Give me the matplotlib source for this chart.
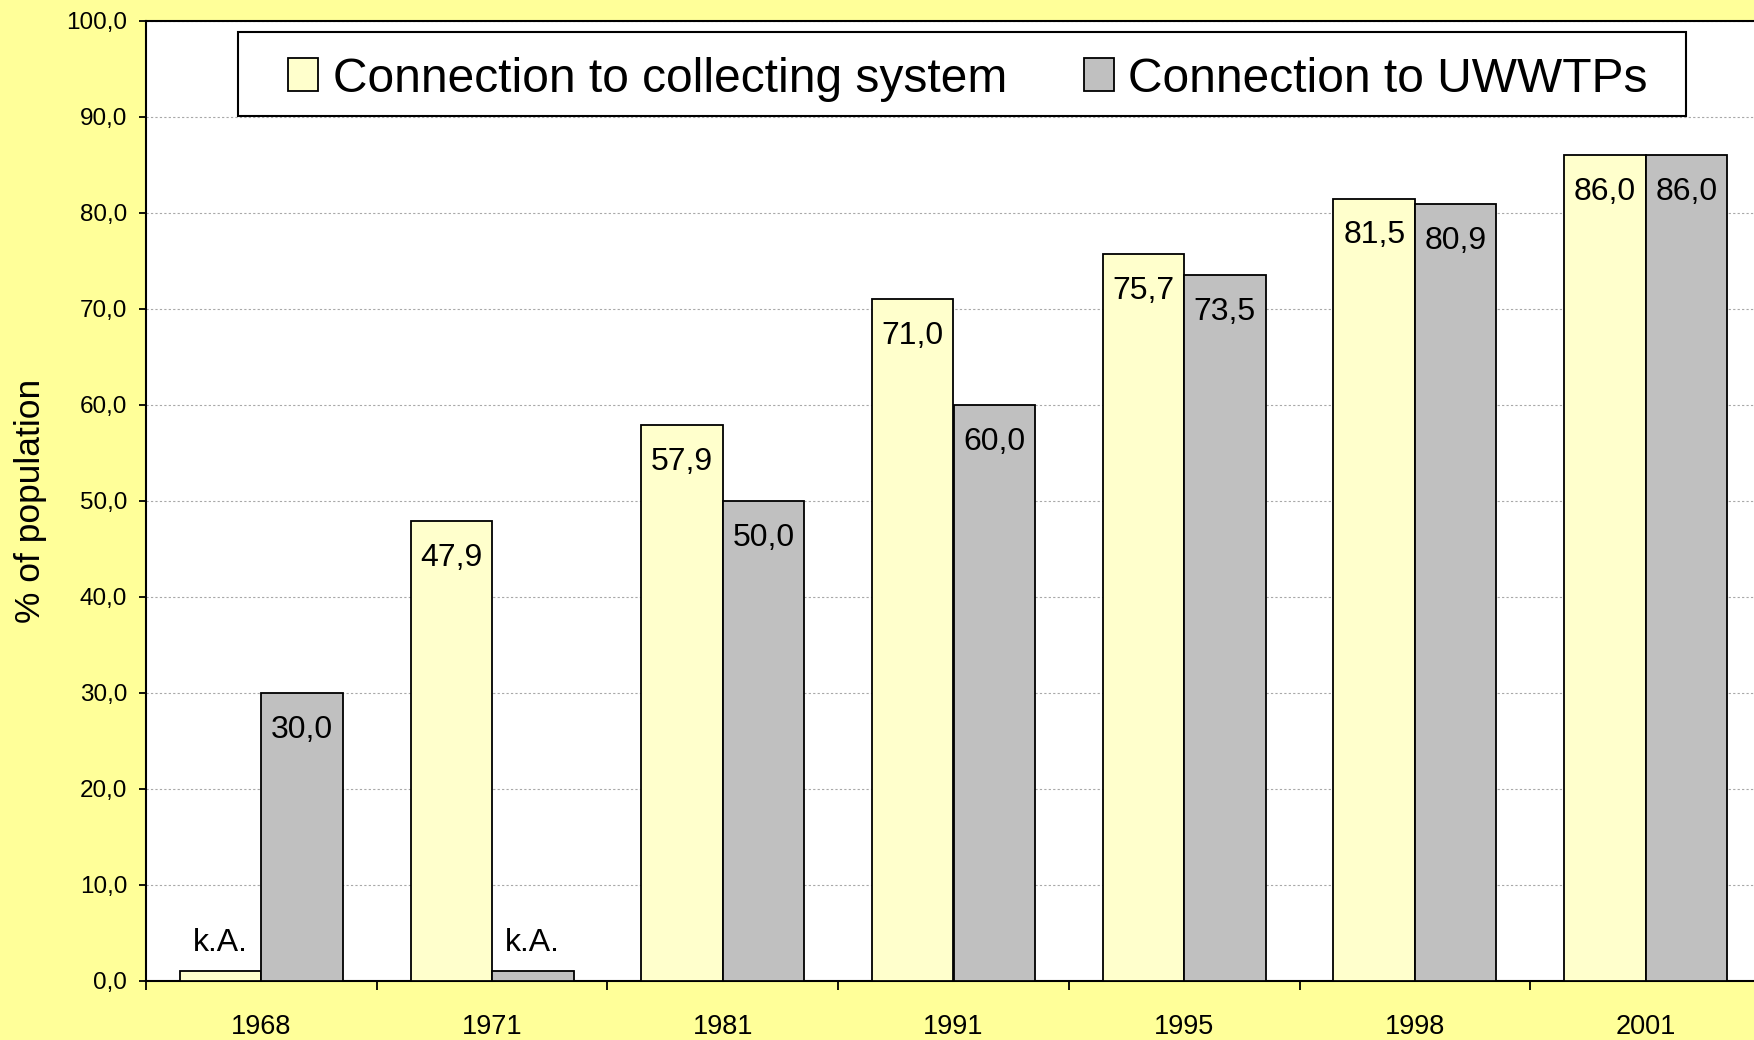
import numpy as np
import matplotlib.pyplot as plt
from matplotlib.patches import Rectangle

plt.rcParams['font.family'] = ['Liberation Sans', 'DejaVu Sans']

years = ['1968', '1971', '1981', '1991', '1995', '1998', '2001']
# k.A. = keine Angabe, drawn as a stub of 1.0
collecting = [1.0, 47.9, 57.9, 71.0, 75.7, 81.5, 86.0]
uwwtp = [30.0, 1.0, 50.0, 60.0, 73.5, 80.9, 86.0]
collecting_lbl = ['k.A.', '47,9', '57,9', '71,0', '75,7', '81,5', '86,0']
uwwtp_lbl = ['30,0', 'k.A.', '50,0', '60,0', '73,5', '80,9', '86,0']
yticks = [0, 10, 20, 30, 40, 50, 60, 70, 80, 90, 100]
ytick_labels = ['0,0', '10,0', '20,0', '30,0', '40,0', '50,0', '60,0', '70,0', '80,0', '90,0', '100,0']

fig = plt.figure(figsize=(17.54, 10.40), dpi=100, facecolor='#FFFF99')
ax = fig.add_axes([146/1754, 59/1040, 1615/1754, 960/1040])
ax.set_facecolor('white')

x = np.arange(len(years))
w = 0.353
b1 = ax.bar(x - w/2, collecting, w, color='#FFFFCC', edgecolor='black', linewidth=1.3,
            label='Connection to collecting system', zorder=3)
b2 = ax.bar(x + w/2, uwwtp, w, color='#C0C0C0', edgecolor='black', linewidth=1.3,
            label='Connection to UWWTPs', zorder=3)

for bars, lbls in [(b1, collecting_lbl), (b2, uwwtp_lbl)]:
    for r, t in zip(bars, lbls):
        cx = r.get_x() + r.get_width()/2
        if t == 'k.A.':
            ax.annotate(t, (cx, r.get_height()), xytext=(0, 10), textcoords='offset points',
                        ha='center', va='bottom', fontsize=23, zorder=4)
        else:
            ax.annotate(t, (cx, r.get_height()), xytext=(0, -26.3), textcoords='offset points',
                        ha='center', va='center', fontsize=23, zorder=4)

ax.set_xlim(-0.5, 6.5)
ax.set_ylim(0, 100)
ax.set_yticks(yticks)
ax.set_yticklabels(ytick_labels, fontsize=17.5)
ax.tick_params(axis='y', direction='out', length=5, width=1.3, pad=8.5)
ax.set_xticks(x)
ax.set_xticklabels(years, fontsize=19.5)
ax.set_xticks(np.arange(-0.5, 7, 1), minor=True)
ax.tick_params(axis='x', which='major', length=0, pad=24)
ax.tick_params(axis='x', which='minor', direction='out', length=6.5, width=1.3)
ax.yaxis.grid(True, color='#a8a8a8', linestyle=(0, (2, 2)), linewidth=0.8, zorder=0)
ax.set_axisbelow(True)
for s in ax.spines.values():
    s.set_linewidth(1.5)

ax.set_ylabel('% of population', fontsize=25.5, va='center')
ax.yaxis.set_label_coords(-116/1615, 0.5)

# legend box
fig.add_artist(Rectangle((238/1754, 1 - 116/1040), 1448/1754, 84/1040, transform=fig.transFigure,
                         facecolor='white', edgecolor='black', linewidth=1.5, zorder=4))
fig.legend(handles=[b1, b2], loc='center', bbox_to_anchor=(968/1754, 1 - 79/1040), ncol=2,
           frameon=False, fontsize=34.5, handlelength=0.63, handleheight=0.69,
           handletextpad=0.3, columnspacing=1.6, borderpad=0)

fig.savefig('out.png', dpi=100, facecolor=fig.get_facecolor())
